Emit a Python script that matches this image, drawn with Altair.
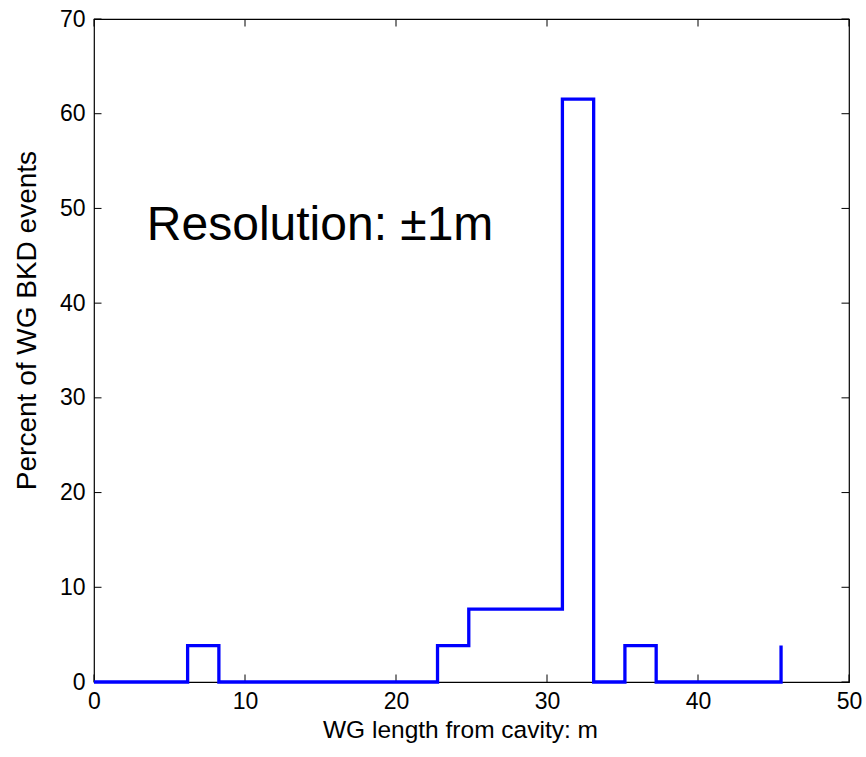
import altair as alt
import pandas as pd

# Stairs data (bin positions along the waveguide, m) and percentages
x_pos = [0.0, 2.07, 4.14, 6.2, 8.27, 10.34, 12.41, 14.48, 16.55, 18.61, 20.68,
         22.75, 24.82, 26.89, 28.95, 31.02, 33.09, 35.16, 37.23, 39.3, 41.36,
         43.43, 45.5]
pct = [0.0, 0.0, 0.0, 3.846, 0.0, 0.0, 0.0, 0.0, 0.0, 0.0, 0.0,
       3.846, 7.692, 7.692, 7.692, 61.54, 0.0, 3.846, 0.0, 0.0, 0.0,
       0.0, 3.846]

x_ticks = [0, 10, 20, 30, 40, 50]
y_ticks = [0, 10, 20, 30, 40, 50, 60, 70]

W, H = 755, 663
FONT = "Liberation Sans"
TL = 7.5

df = pd.DataFrame({"x": x_pos, "y": pct})
xt = pd.DataFrame({"t": x_ticks})
yt = pd.DataFrame({"t": y_ticks})
ann = pd.DataFrame({"x": [3.5], "y": [46.7], "label": ["Resolution: \u00b11m"]})

xs = alt.Scale(domain=[0, 50], nice=False, zero=False)
ys = alt.Scale(domain=[0, 70], nice=False, zero=False)

line = alt.Chart(df).mark_line(
    interpolate="step-after", color="#0000FF", strokeWidth=3.3, strokeJoin="miter"
).encode(
    x=alt.X("x:Q", scale=xs, axis=alt.Axis(
        values=x_ticks, title="WG length from cavity: m", ticks=False, tickSize=0,
        domain=False, grid=False, labelPadding=8, titlePadding=5, titleX=366,
        labelFontSize=23, titleFontSize=24.5, labelFont=FONT, titleFont=FONT,
        labelColor="black", titleColor="black", titleFontWeight="normal",
        labelFlush=False)),
    y=alt.Y("y:Q", scale=ys, axis=alt.Axis(
        values=y_ticks, title="Percent of WG BKD events", ticks=False, tickSize=0,
        domain=False, grid=False, labelPadding=9, titlePadding=18, titleY=301,
        labelFontSize=23, titleFontSize=28, labelFont=FONT, titleFont=FONT,
        labelColor="black", titleColor="black", titleFontWeight="normal",
        labelFlush=False)),
)

tick_style = dict(color="black", strokeWidth=1)
bottom = alt.Chart(xt).mark_rule(**tick_style).encode(
    x=alt.X("t:Q", scale=xs), y=alt.value(H), y2=alt.value(H - TL))
top = alt.Chart(xt).mark_rule(**tick_style).encode(
    x=alt.X("t:Q", scale=xs), y=alt.value(0), y2=alt.value(TL))
left = alt.Chart(yt).mark_rule(**tick_style).encode(
    y=alt.Y("t:Q", scale=ys), x=alt.value(0), x2=alt.value(TL))
right = alt.Chart(yt).mark_rule(**tick_style).encode(
    y=alt.Y("t:Q", scale=ys), x=alt.value(W), x2=alt.value(W - TL))

text = alt.Chart(ann).mark_text(
    align="left", baseline="alphabetic", fontSize=48, font=FONT, color="black"
).encode(x=alt.X("x:Q", scale=xs), y=alt.Y("y:Q", scale=ys), text="label:N")

chart = alt.layer(bottom, top, left, right, line, text).properties(
    width=W, height=H,
    autosize=alt.AutoSizeParams(type="none"),
    padding={"left": 94, "top": 19, "right": 17, "bottom": 75},
    background="white",
).configure_view(stroke="black", strokeWidth=1.2)

chart.save("out.html", embed_options={"renderer": "svg", "actions": False})
